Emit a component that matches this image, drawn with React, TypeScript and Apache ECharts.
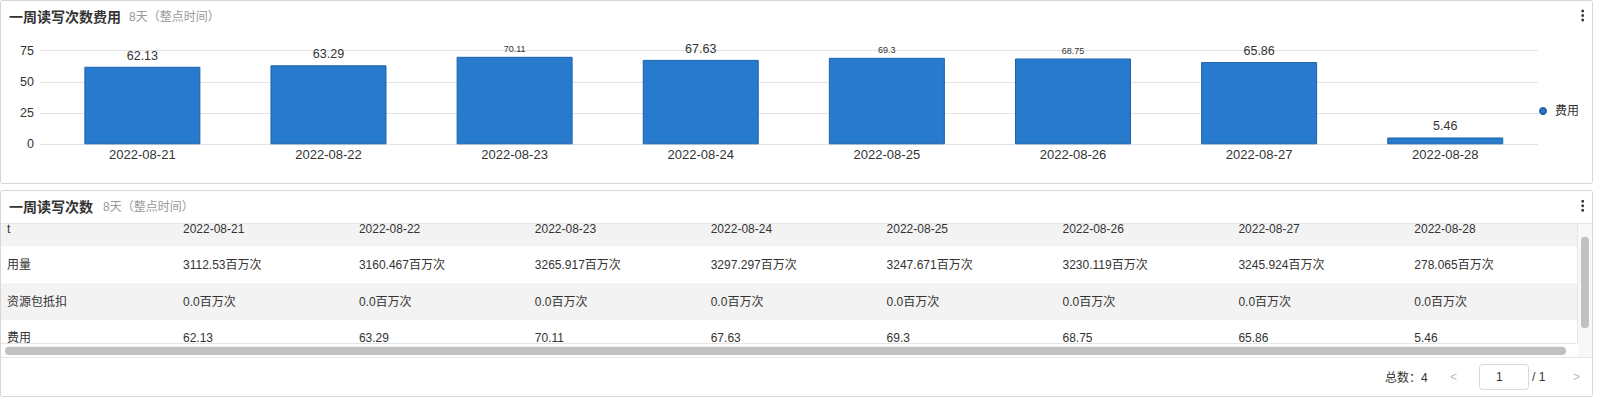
import React, { useEffect, useRef } from "react";
import * as echarts from "echarts";

const days = ["2022-08-21", "2022-08-22", "2022-08-23", "2022-08-24", "2022-08-25", "2022-08-26", "2022-08-27", "2022-08-28"];
const cost = [62.13, 63.29, 70.11, 67.63, 69.3, 68.75, 65.86, 5.46];
const usage = [3112.53, 3160.467, 3265.917, 3297.297, 3247.671, 3230.119, 3245.924, 278.065];
const deduction = [0, 0, 0, 0, 0, 0, 0, 0];
const rowLabels = ["t", "用量", "资源包抵扣", "费用"];
const yTicks = [0, 25, 50, 75];
const totalCount = 4;

const FONT = '"Liberation Sans", Arial, "Noto Sans CJK SC", sans-serif';
const smallLabelIdx = new Set([2, 4, 5]);

function txt(x: number, y: number, text: string, opts: any = {}) {
  return {
    type: "text",
    x,
    y,
    z: 10,
    style: {
      text,
      fill: opts.fill || "#333",
      fontSize: opts.fontSize || 12,
      fontWeight: opts.fontWeight || "normal",
      fontFamily: FONT,
      align: opts.align || "left",
      verticalAlign: "middle",
      textAlign: opts.align || "left",
      textVerticalAlign: "middle",
    },
  };
}
function rect(x: number, y: number, w: number, h: number, style: any, r = 0, z = 1) {
  return { type: "rect", z, shape: { x, y, width: w, height: h, r }, style };
}
function line(x1: number, y1: number, x2: number, y2: number, stroke = "#e6e6e6") {
  return { type: "line", z: 5, shape: { x1, y1, x2, y2 }, style: { stroke, lineWidth: 1 } };
}
function dots(cx: number, cy: number) {
  return [-4.5, 0, 4.5].map((d) => ({ type: "circle", z: 10, shape: { cx, cy: cy + d, r: 1.4 }, style: { fill: "#333" } }));
}

export default function App() {
  const ref = useRef<HTMLDivElement>(null);
  useEffect(() => {
    const chart = echarts.init(ref.current!, null, { renderer: "svg" });

    const colX = (i: number) => 183 + 175.9 * i;
    const rowY = [229, 265, 302, 338];
    const tableRows: string[][] = [
      days,
      usage.map((v) => String(v) + "百万次"),
      deduction.map((v) => v.toFixed(1) + "百万次"),
      cost.map((v) => String(v)),
    ];
    const tableTexts: any[] = [];
    rowLabels.forEach((lab, r) => {
      tableTexts.push(txt(7, rowY[r], lab));
      tableRows[r].forEach((cell, c) => tableTexts.push(txt(colX(c), rowY[r], cell)));
    });

    const graphic: any[] = [
      rect(0.5, 0.5, 1592, 183, { fill: "none", stroke: "#d6d6d6", lineWidth: 1 }, 2, 0),
      rect(0.5, 190.5, 1592, 206, { fill: "none", stroke: "#d6d6d6", lineWidth: 1 }, 2, 0),
      txt(9, 17, "一周读写次数费用", { fontSize: 14, fontWeight: "bold" }),
      txt(129, 17, "8天（整点时间）", { fontSize: 12, fill: "#999" }),
      txt(9, 207, "一周读写次数", { fontSize: 14, fontWeight: "bold" }),
      txt(103, 207, "8天（整点时间）", { fontSize: 12, fill: "#999" }),
      ...dots(1582.7, 15.5),
      ...dots(1582.7, 205.8),
      rect(1, 223.5, 1576.5, 22.8, { fill: "#f3f3f3" }),
      rect(1, 283.3, 1576.5, 36.8, { fill: "#f3f3f3" }),
      rect(1578, 223.5, 14, 133.5, { fill: "#f8f8f8" }),
      line(1, 223.5, 1592, 223.5),
      line(1577.5, 223.5, 1577.5, 343.5),
      line(1, 343.5, 1577.5, 343.5),
      line(1, 357.5, 1592, 357.5),
      rect(5, 346.7, 1561, 8.3, { fill: "#c1c1c1" }, 4, 6),
      rect(1581, 236.7, 8, 91.6, { fill: "#c1c1c1" }, 4, 6),
      ...tableTexts,
      txt(1385, 378, "总数：" + totalCount, { fontSize: 12 }),
      txt(1450, 377, "<", { fontSize: 12, fill: "#bbb" }),
      rect(1479.5, 364.5, 49, 25, { fill: "#fff", stroke: "#d9d9d9", lineWidth: 1 }, 3, 5),
      txt(1496, 377, "1", { fontSize: 12 }),
      txt(1532, 377, "/ 1", { fontSize: 12 }),
      txt(1573, 377, ">", { fontSize: 12, fill: "#bbb" }),
    ];

    chart.setOption({
      animation: false,
      textStyle: { fontFamily: FONT },
      legend: {
        data: ["费用"],
        icon: "circle",
        itemWidth: 14,
        itemHeight: 6,
        left: 1534,
        top: 100,
        textStyle: { fontSize: 12, color: "#333", fontFamily: FONT },
      },
      grid: [
        { left: 40, top: 50.7, width: 1498, height: 93.6 },
        { left: 49.3, top: 50.7, width: 1489, height: 93.6 },
      ],
      xAxis: [
        { type: "category", gridIndex: 0, data: days, show: false },
        {
          type: "category",
          gridIndex: 1,
          data: days,
          axisLine: { show: false },
          axisTick: { show: false },
          axisLabel: { margin: 4, fontSize: 13, color: "#333", fontFamily: FONT },
        },
      ],
      yAxis: [
        {
          type: "value",
          gridIndex: 0,
          min: 0,
          max: yTicks[yTicks.length - 1],
          interval: 25,
          axisLine: { show: false },
          axisTick: { show: false },
          axisLabel: { margin: 6, fontSize: 12.5, color: "#333", fontFamily: FONT },
          splitLine: { lineStyle: { color: "#e3e3e3" } },
        },
        { type: "value", gridIndex: 1, min: 0, max: 75, show: false },
      ],
      series: [
        {
          name: "费用",
          type: "bar",
          xAxisIndex: 1,
          yAxisIndex: 1,
          barWidth: 116,
          itemStyle: { color: "#277acc", borderColor: "#1c62ad", borderWidth: 1 },
          label: { show: true, position: "top", distance: 5, fontSize: 12.5, color: "#333", fontFamily: FONT },
          data: cost.map((v, i) =>
            smallLabelIdx.has(i) ? { value: v, label: { fontSize: 9, distance: 3 } } : v
          ),
        },
      ],
      graphic,
    });
    return () => chart.dispose();
  }, []);
  return (
    <div style={{ position: "absolute", left: 0, top: 0, width: 1599, height: 402, background: "#fff" }}>
      <div ref={ref} style={{ width: 1599, height: 402 }} />
    </div>
  );
}
